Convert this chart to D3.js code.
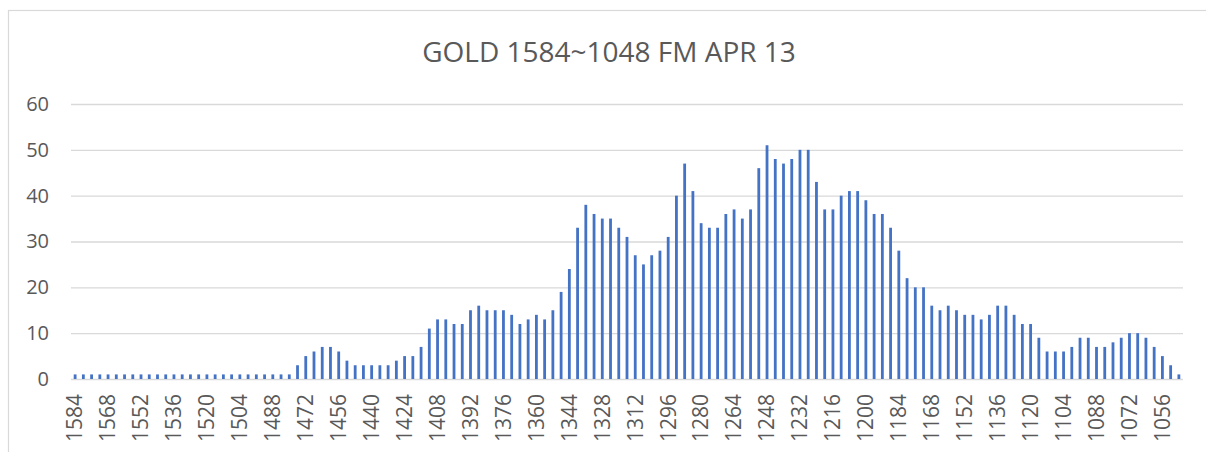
<!DOCTYPE html>
<html>
<head>
<meta charset="utf-8">
<script src="https://cdn.jsdelivr.net/npm/d3@7"></script>
<style>
  body { margin: 0; background: #fff; }
  svg text { font-family: "Open Sans", sans-serif; fill: #595959; }
</style>
</head>
<body>
<div id="chart"></div>
<script>
// price levels, left to right
var prices = [
  1584, 1580, 1576, 1572, 1568, 1564, 1560, 1556, 1552, 1548, 1544, 1540, 1536, 1532, 1528, 1524,
  1520, 1516, 1512, 1508, 1504, 1500, 1496, 1492, 1488, 1484, 1480, 1476, 1472, 1468, 1464, 1460,
  1456, 1452, 1448, 1444, 1440, 1436, 1432, 1428, 1424, 1420, 1416, 1412, 1408, 1404, 1400, 1396,
  1392, 1388, 1384, 1380, 1376, 1372, 1368, 1364, 1360, 1356, 1352, 1348, 1344, 1340, 1336, 1332,
  1328, 1324, 1320, 1316, 1312, 1308, 1304, 1300, 1296, 1292, 1288, 1284, 1280, 1276, 1272, 1268,
  1264, 1260, 1256, 1252, 1248, 1244, 1240, 1236, 1232, 1228, 1224, 1220, 1216, 1212, 1208, 1204,
  1200, 1196, 1192, 1188, 1184, 1180, 1176, 1172, 1168, 1164, 1160, 1156, 1152, 1148, 1144, 1140,
  1136, 1132, 1128, 1124, 1120, 1116, 1112, 1108, 1104, 1100, 1096, 1092, 1088, 1084, 1080, 1076,
  1072, 1068, 1064, 1060, 1056, 1052, 1048
];

// counts
var counts = [
  1, 1, 1, 1, 1, 1, 1, 1, 1, 1, 1, 1, 1, 1, 1, 1,
  1, 1, 1, 1, 1, 1, 1, 1, 1, 1, 1, 3, 5, 6, 7, 7,
  6, 4, 3, 3, 3, 3, 3, 4, 5, 5, 7, 11, 13, 13, 12, 12,
  15, 16, 15, 15, 15, 14, 12, 13, 14, 13, 15, 19, 24, 33, 38, 36,
  35, 35, 33, 31, 27, 25, 27, 28, 31, 40, 47, 41, 34, 33, 33, 36,
  37, 35, 37, 46, 51, 48, 47, 48, 50, 50, 43, 37, 37, 40, 41, 41,
  39, 36, 36, 33, 28, 22, 20, 20, 16, 15, 16, 15, 14, 14, 13, 14,
  16, 16, 14, 12, 12, 9, 6, 6, 6, 7, 9, 9, 7, 7, 8, 9,
  10, 10, 9, 7, 5, 3, 1
];

var xTickLabels = [1584, 1568, 1552, 1536, 1520, 1504, 1488, 1472, 1456, 1440, 1424, 1408,
  1392, 1376, 1360, 1344, 1328, 1312, 1296, 1280, 1264, 1248, 1232, 1216, 1200, 1184,
  1168, 1152, 1136, 1120, 1104, 1088, 1072, 1056];
var yTickLabels = [0, 10, 20, 30, 40, 50, 60];

var chartTitle = "GOLD 1584~1048 FM APR 13";

var fullWidth = 1206,
    fullHeight = 452;
var margin = {top: 104, right: 23, bottom: 73, left: 71},
    width = fullWidth - margin.left - margin.right,
    height = fullHeight - margin.top - margin.bottom;

var svg = d3.select("#chart").append("svg")
  .attr("width", fullWidth)
  .attr("height", fullHeight);

// chart area border (only top and left edges show in the frame)
svg.append("rect")
  .attr("x", 8.5)
  .attr("y", 10.5)
  .attr("width", 1220)
  .attr("height", 460)
  .attr("fill", "none")
  .attr("stroke", "#d9d9d9")
  .attr("stroke-width", 1.2);

// title
svg.append("text")
  .attr("x", 609)
  .attr("y", 62)
  .attr("text-anchor", "middle")
  .style("font-size", "28px")
  .text(chartTitle);

var g = svg.append("g")
  .attr("transform", "translate(" + margin.left + "," + margin.top + ")");

var xScale = d3.scaleBand()
  .domain(prices)
  .range([0, width])
  .paddingInner(0.66)
  .paddingOuter(0.33);

var yScale = d3.scaleLinear()
  .domain([0, 60])
  .range([height, 0]);

// gridlines
g.append("g")
  .attr("class", "grid")
  .call(d3.axisLeft(yScale).tickValues(yTickLabels).tickSize(-width).tickFormat(""))
  .call(function(s) {
    s.select(".domain").remove();
    s.selectAll("line").attr("stroke", "#d9d9d9").attr("stroke-width", 1.3);
  });

// y axis labels
g.append("g")
  .attr("class", "y axis")
  .call(d3.axisLeft(yScale).tickValues(yTickLabels).tickSize(0).tickPadding(22))
  .call(function(s) {
    s.select(".domain").remove();
    s.selectAll("text").style("font-size", "20px").attr("fill", "#595959");
  });

// bars
g.selectAll(".bar")
  .data(prices)
  .enter()
  .append("rect")
  .attr("class", "bar")
  .attr("x", function(d) { return xScale(d); })
  .attr("width", xScale.bandwidth())
  .attr("y", function(d, i) { return yScale(counts[i]); })
  .attr("height", function(d, i) { return height - yScale(counts[i]); })
  .attr("fill", "#4472c4");

// x axis labels, rotated
g.append("g")
  .attr("class", "x axis")
  .attr("transform", "translate(0," + height + ")")
  .call(d3.axisBottom(xScale).tickValues(xTickLabels).tickSize(0))
  .call(function(s) {
    s.select(".domain").remove();
    s.selectAll("text")
      .style("font-size", "21px")
      .attr("fill", "#595959")
      .attr("text-anchor", "end")
      .attr("transform", "rotate(-90)")
      .attr("x", -15)
      .attr("y", 0)
      .attr("dy", "0.35em");
  });
</script>
</body>
</html>
